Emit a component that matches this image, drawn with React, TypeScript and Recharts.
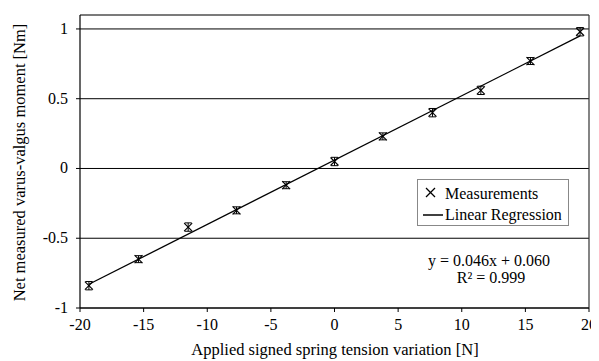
import React from "react";
import {
  ScatterChart,
  Scatter,
  XAxis,
  YAxis,
  CartesianGrid,
  ErrorBar,
  ReferenceLine,
} from "recharts";

const tensionValues = [-19.3, -15.4, -11.5, -7.7, -3.8, 0, 3.8, 7.7, 11.5, 15.4, 19.3];
const momentValues = [-0.84, -0.65, -0.42, -0.3, -0.12, 0.05, 0.23, 0.4, 0.56, 0.77, 0.98];
const momentErrors = [0.03, 0.025, 0.03, 0.025, 0.025, 0.03, 0.025, 0.03, 0.03, 0.025, 0.03];
const regressionX = [-19.3, 19.3];
const regressionY = [-0.83, 0.95];
const xTicks = [-20, -15, -10, -5, 0, 5, 10, 15, 20];
const yTicks = [-1, -0.5, 0, 0.5, 1];
const equationText = "y = 0.046x + 0.060";
const r2Text = "R² = 0.999";

const measurements = tensionValues.map((x, i) => ({
  x,
  y: momentValues[i],
  err: momentErrors[i],
}));
const regression = regressionX.map((x, i) => ({ x, y: regressionY[i] }));

const FONT = "Liberation Serif";

const XMarker = (props: any) => {
  const { cx, cy } = props;
  if (cx == null || cy == null) return null;
  const s = 4;
  return (
    <g>
      <line x1={cx - s} y1={cy - s} x2={cx + s} y2={cy + s} stroke="#000" strokeWidth={1.1} />
      <line x1={cx - s} y1={cy + s} x2={cx + s} y2={cy - s} stroke="#000" strokeWidth={1.1} />
    </g>
  );
};

const NoShape = () => null;

const XTick = (props: any) => {
  const { x, y, payload } = props;
  return (
    <text x={x} y={y + 15} textAnchor="middle" fontFamily={FONT} style={{ fontFamily: FONT }} fontSize={16} fill="#000">
      {String(payload.value)}
    </text>
  );
};

const YTick = (props: any) => {
  const { x, y, payload } = props;
  return (
    <text x={x} y={y + 5} textAnchor="end" fontFamily={FONT} style={{ fontFamily: FONT }} fontSize={16} fill="#000">
      {String(payload.value)}
    </text>
  );
};

const YLabel = () => {
  const cy = 154.5;
  const cx = 11;
  return (
    <text
      x={cx}
      y={cy}
      transform={`rotate(-90, ${cx}, ${cy})`}
      textAnchor="middle"
      dominantBaseline="central"
      fontFamily={FONT}
      style={{ fontFamily: FONT }}
      fontSize={16.5}
      fill="#000"
    >
      Net measured varus-valgus moment [Nm]
    </text>
  );
};

const XLabel = () => (
  <text
    x={327}
    y={347}
    textAnchor="middle"
    fontFamily={FONT}
    style={{ fontFamily: FONT }}
    fontSize={16.5}
    fill="#000"
  >
    Applied signed spring tension variation [N]
  </text>
);

const LegendBox = () => (
  <div style={{ fontFamily: FONT, color: "#000", fontSize: 16 }}>
    <div
      style={{
        position: "absolute",
        left: 409,
        top: 171,
        border: "1px solid #888",
        background: "#fff",
        width: 152,
        height: 47,
        boxSizing: "border-box",
      }}
    >
      <svg width={14} height={14} style={{ position: "absolute", left: 6, top: 6 }}>
        <line x1={2} y1={2} x2={11} y2={11} stroke="#000" strokeWidth={1.2} />
        <line x1={2} y1={11} x2={11} y2={2} stroke="#000" strokeWidth={1.2} />
      </svg>
      <div style={{ position: "absolute", left: 27, top: 4, lineHeight: "20px", whiteSpace: "nowrap" }}>
        Measurements
      </div>
      <svg width={20} height={4} style={{ position: "absolute", left: 5, top: 33 }}>
        <line x1={0} y1={2} x2={20} y2={2} stroke="#000" strokeWidth={1.5} />
      </svg>
      <div style={{ position: "absolute", left: 27, top: 25, lineHeight: "20px", whiteSpace: "nowrap" }}>
        Linear Regression
      </div>
    </div>
    <div
      style={{
        position: "absolute",
        left: 401,
        top: 245,
        width: 160,
        textAlign: "center",
        lineHeight: "16px",
        whiteSpace: "nowrap",
        fontSize: 16,
      }}
    >
      {equationText}
    </div>
    <div
      style={{
        position: "absolute",
        left: 403,
        top: 262,
        width: 160,
        textAlign: "center",
        lineHeight: "16px",
        whiteSpace: "nowrap",
        fontSize: 16,
      }}
    >
      {r2Text}
    </div>
  </div>
);

export default function App() {
  return (
    <div style={{ position: "relative", width: 591, height: 353 }}>
      <ScatterChart
        width={591}
        height={353}
        margin={{ top: 7, right: 10, left: 0, bottom: 0 }}
      >
        <CartesianGrid horizontal={true} vertical={false} stroke="#000" strokeWidth={1} />
        <XAxis
          type="number"
          dataKey="x"
          domain={[-20, 20]}
          ticks={xTicks}
          allowDataOverflow
          height={53}
          tickSize={4}
          tickMargin={3}
          axisLine={{ stroke: "#000", strokeWidth: 1.2 }}
          tickLine={{ stroke: "#000" }}
          tick={<XTick />}
          label={<XLabel />}
        />
        <YAxis
          type="number"
          dataKey="y"
          domain={[-1, 1.1]}
          ticks={yTicks}
          allowDataOverflow
          width={72}
          tickSize={4}
          tickMargin={8}
          axisLine={{ stroke: "#000", strokeWidth: 1.2 }}
          tickLine={{ stroke: "#000" }}
          tick={<YTick />}
          label={<YLabel />}
        />
        <ReferenceLine y={1.1} stroke="#777" strokeWidth={1.2} />
        <ReferenceLine x={20} stroke="#333" strokeWidth={1.2} />
        <Scatter
          data={regression}
          line={{ stroke: "#000", strokeWidth: 1.3 }}
          lineType="joint"
          shape={NoShape}
          isAnimationActive={false}
          legendType="none"
        />
        <Scatter data={measurements} shape={<XMarker />} isAnimationActive={false}>
          <ErrorBar dataKey="err" direction="y" width={3.5} stroke="#000" strokeWidth={1} />
        </Scatter>
      </ScatterChart>
      <LegendBox />
    </div>
  );
}
